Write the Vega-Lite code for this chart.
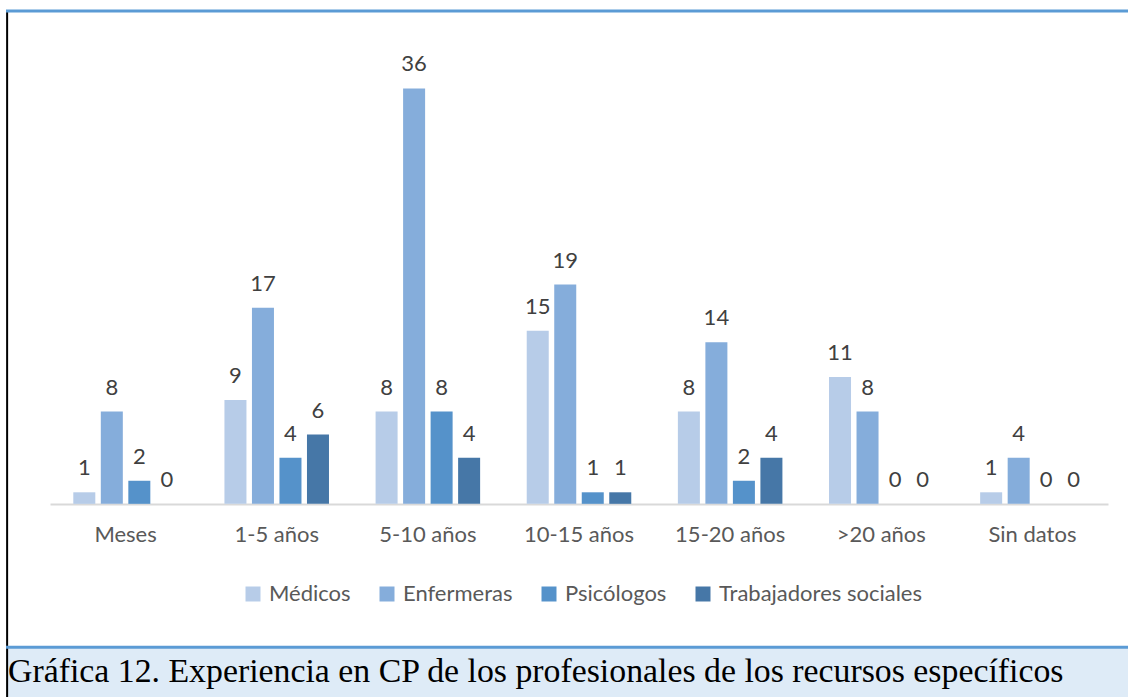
{
  "$schema": "https://vega.github.io/schema/vega-lite/v6.json",
  "width": 1122,
  "height": 686,
  "padding": {"left": 6, "top": 11, "right": 0, "bottom": 0},
  "autosize": {"type": "none"},
  "background": "white",
  "config": {"view": {"stroke": null}, "font": "Lato"},
  "datasets": {
    "bars": [
      {"cat": "Meses", "prof": "Médicos", "value": 1},
      {"cat": "Meses", "prof": "Enfermeras", "value": 8},
      {"cat": "Meses", "prof": "Psicólogos", "value": 2},
      {"cat": "Meses", "prof": "Trabajadores sociales", "value": 0},
      {"cat": "1-5 años", "prof": "Médicos", "value": 9},
      {"cat": "1-5 años", "prof": "Enfermeras", "value": 17},
      {"cat": "1-5 años", "prof": "Psicólogos", "value": 4},
      {"cat": "1-5 años", "prof": "Trabajadores sociales", "value": 6},
      {"cat": "5-10 años", "prof": "Médicos", "value": 8},
      {"cat": "5-10 años", "prof": "Enfermeras", "value": 36},
      {"cat": "5-10 años", "prof": "Psicólogos", "value": 8},
      {"cat": "5-10 años", "prof": "Trabajadores sociales", "value": 4},
      {"cat": "10-15 años", "prof": "Médicos", "value": 15},
      {"cat": "10-15 años", "prof": "Enfermeras", "value": 19},
      {"cat": "10-15 años", "prof": "Psicólogos", "value": 1},
      {"cat": "10-15 años", "prof": "Trabajadores sociales", "value": 1},
      {"cat": "15-20 años", "prof": "Médicos", "value": 8},
      {"cat": "15-20 años", "prof": "Enfermeras", "value": 14},
      {"cat": "15-20 años", "prof": "Psicólogos", "value": 2},
      {"cat": "15-20 años", "prof": "Trabajadores sociales", "value": 4},
      {"cat": ">20 años", "prof": "Médicos", "value": 11},
      {"cat": ">20 años", "prof": "Enfermeras", "value": 8},
      {"cat": ">20 años", "prof": "Psicólogos", "value": 0},
      {"cat": ">20 años", "prof": "Trabajadores sociales", "value": 0},
      {"cat": "Sin datos", "prof": "Médicos", "value": 1},
      {"cat": "Sin datos", "prof": "Enfermeras", "value": 4},
      {"cat": "Sin datos", "prof": "Psicólogos", "value": 0},
      {"cat": "Sin datos", "prof": "Trabajadores sociales", "value": 0}
    ],
    "caption": [
      {"text": "Gráfica 12. Experiencia en CP de los profesionales de los recursos específicos"}
    ]
  },
  "layer": [
    {
      "data": {"name": "caption"},
      "mark": {"type": "rect", "color": "#DEEBF7"},
      "encoding": {
        "x": {"datum": 0, "type": "quantitative", "scale": {"domain": [0, 1]}, "axis": null},
        "x2": {"datum": 1},
        "y": {"datum": -12.43, "type": "quantitative", "scale": {"domain": [-16.74, 42.71], "nice": false, "zero": false}, "axis": null},
        "y2": {"datum": -16.74}
      }
    },
    {
      "data": {"name": "bars"},
      "encoding": {
        "x": {
          "field": "cat", "type": "nominal",
          "sort": ["Meses", "1-5 años", "5-10 años", "10-15 años", "15-20 años", ">20 años", "Sin datos"],
          "scale": {"range": [44, 1102], "paddingInner": 0, "paddingOuter": 0},
          "axis": {
            "orient": "bottom", "offset": -193, "title": null, "ticks": false,
            "domainColor": "#D9D9D9", "domainWidth": 2, "labelAngle": 0,
            "labelFont": "Lato", "labelFontSize": 22, "labelColor": "#595959", "labelPadding": 20
          }
        },
        "xOffset": {
          "field": "prof", "type": "nominal",
          "sort": ["Médicos", "Enfermeras", "Psicólogos", "Trabajadores sociales"],
          "scale": {"paddingInner": 0.2, "paddingOuter": 0.847}
        },
        "y": {"field": "value", "type": "quantitative", "scale": {"domain": [-16.74, 42.71], "nice": false, "zero": false}, "axis": null}
      },
      "layer": [
        {
          "mark": {"type": "bar"},
          "encoding": {
            "color": {
              "field": "prof", "type": "nominal",
              "scale": {
                "domain": ["Médicos", "Enfermeras", "Psicólogos", "Trabajadores sociales"],
                "range": ["#B7CCE8", "#85ADDB", "#5592CA", "#4677A7"]
              },
              "legend": {
                "orient": "none", "legendX": 236, "legendY": 572, "direction": "horizontal",
                "title": null, "symbolType": "square", "symbolSize": 225, "symbolStrokeWidth": 0,
                "labelFont": "Lato", "labelFontSize": 22, "labelColor": "#595959", "labelLimit": 0,
                "columnPadding": 25, "labelOffset": 5
              }
            },
            "y2": {"datum": 0}
          }
        },
        {
          "mark": {"type": "text", "baseline": "alphabetic", "dy": -17, "fontSize": 22, "color": "#404040", "font": "Lato"},
          "encoding": {
            "text": {"field": "value", "type": "quantitative"}
          }
        }
      ]
    },
    {
      "data": {"name": "caption"},
      "mark": {"type": "rule", "color": "#000000", "strokeWidth": 2},
      "encoding": {
        "x": {"datum": 0.001, "type": "quantitative", "scale": {"domain": [0, 1]}, "axis": null},
        "y": {"datum": 42.71, "type": "quantitative", "scale": {"domain": [-16.74, 42.71], "nice": false, "zero": false}, "axis": null},
        "y2": {"datum": -16.74}
      }
    },
    {
      "data": {"name": "caption"},
      "mark": {"type": "rule", "color": "#5B9BD5", "strokeWidth": 3},
      "encoding": {
        "x": {"datum": 0, "type": "quantitative", "scale": {"domain": [0, 1]}, "axis": null},
        "x2": {"datum": 1},
        "y": {"datum": 42.71, "type": "quantitative", "scale": {"domain": [-16.74, 42.71], "nice": false, "zero": false}, "axis": null}
      }
    },
    {
      "data": {"name": "caption"},
      "mark": {"type": "rule", "color": "#5B9BD5", "strokeWidth": 3},
      "encoding": {
        "x": {"datum": 0, "type": "quantitative", "scale": {"domain": [0, 1]}, "axis": null},
        "x2": {"datum": 1},
        "y": {"datum": -12.43, "type": "quantitative", "scale": {"domain": [-16.74, 42.71], "nice": false, "zero": false}, "axis": null}
      }
    },
    {
      "data": {"name": "caption"},
      "mark": {"type": "text", "align": "left", "baseline": "middle", "dx": 2, "font": "Liberation Serif", "fontSize": 33.8, "color": "#000000"},
      "encoding": {
        "x": {"datum": 0, "type": "quantitative", "scale": {"domain": [0, 1]}, "axis": null},
        "y": {"datum": -14.6, "type": "quantitative", "scale": {"domain": [-16.74, 42.71], "nice": false, "zero": false}, "axis": null},
        "text": {"field": "text", "type": "nominal"}
      }
    }
  ],
  "resolve": {"scale": {"x": "independent"}}
}
